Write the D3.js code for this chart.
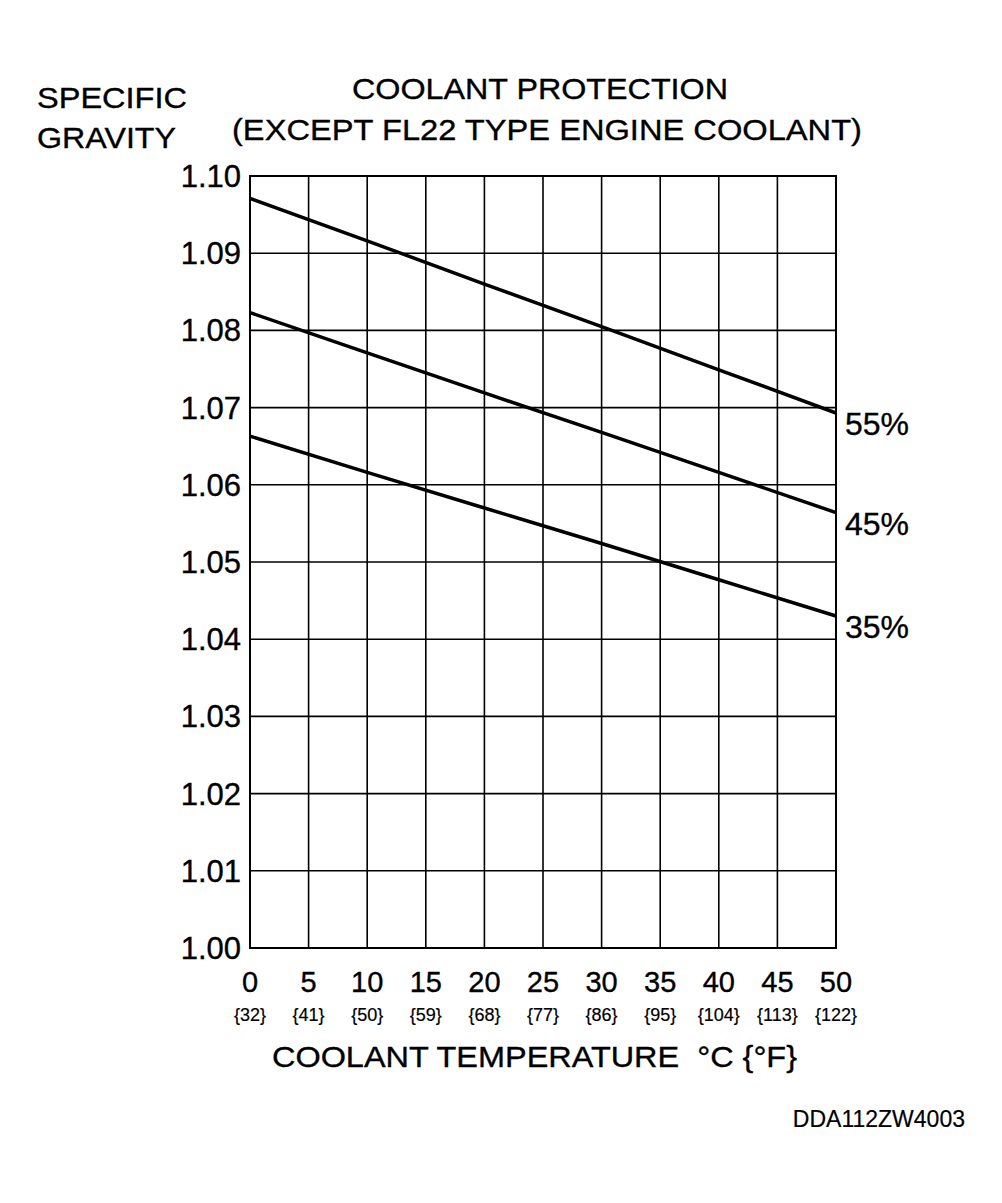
<!DOCTYPE html>
<html>
<head>
<meta charset="utf-8">
<script src="https://cdn.jsdelivr.net/npm/d3@7"></script>
<style>
  body { margin: 0; background: #fff; }
  svg { display: block; font-family: "Liberation Sans", Arial, sans-serif; }
  svg text { stroke: #000; stroke-width: 0.35; }
</style>
</head>
<body>
<script>
// temperatures (deg C) where the curves were read
var temps = [0, 10, 20, 30, 40, 50];
// fahrenheit labels under the celsius ticks
var xTicks = [0, 5, 10, 15, 20, 25, 30, 35, 40, 45, 50];
var fTicks = ["{32}", "{41}", "{50}", "{59}", "{68}", "{77}", "{86}", "{95}", "{104}", "{113}", "{122}"];
var yTicks = [1.00, 1.01, 1.02, 1.03, 1.04, 1.05, 1.06, 1.07, 1.08, 1.09, 1.10];

// specific gravity per concentration
var series = ["55%", "45%", "35%"];
var sg55 = [1.0971, 1.0916, 1.0860, 1.0805, 1.0749, 1.0693];
var sg45 = [1.0823, 1.0771, 1.0719, 1.0668, 1.0616, 1.0564];
var sg35 = [1.0663, 1.0616, 1.0570, 1.0524, 1.0477, 1.0430];
var values = [sg55, sg45, sg35];

var size = { width: 1002, height: 1203 };
var plot = { left: 250, right: 836, top: 176, bottom: 948 };

var svg = d3.select("body").append("svg")
  .attr("width", size.width)
  .attr("height", size.height);

var x = d3.scaleLinear().domain([0, 50]).range([plot.left, plot.right]);
var y = d3.scaleLinear().domain([1.00, 1.10]).range([plot.bottom, plot.top]);

// grid lines
svg.append("g")
  .selectAll("line.v")
  .data(xTicks)
  .join("line")
  .attr("x1", d => x(d)).attr("x2", d => x(d))
  .attr("y1", plot.top).attr("y2", plot.bottom)
  .attr("stroke", "#000")
  .attr("stroke-width", 1.6);

svg.append("g")
  .selectAll("line.h")
  .data(yTicks)
  .join("line")
  .attr("x1", plot.left).attr("x2", plot.right)
  .attr("y1", d => y(d)).attr("y2", d => y(d))
  .attr("stroke", "#000")
  .attr("stroke-width", 1.6);

// outer frame
svg.append("rect")
  .attr("x", plot.left).attr("y", plot.top)
  .attr("width", plot.right - plot.left)
  .attr("height", plot.bottom - plot.top)
  .attr("fill", "none")
  .attr("stroke", "#000")
  .attr("stroke-width", 2);

// y tick labels
svg.append("g")
  .selectAll("text")
  .data(yTicks)
  .join("text")
  .attr("x", 241)
  .attr("y", d => y(d) + 11)
  .attr("text-anchor", "end")
  .attr("font-size", 31)
  .text(d => d3.format(".2f")(d));

// x tick labels
svg.append("g")
  .selectAll("text")
  .data(xTicks)
  .join("text")
  .attr("x", d => x(d))
  .attr("y", 992)
  .attr("text-anchor", "middle")
  .attr("font-size", 29)
  .text(d => d);

svg.append("g")
  .selectAll("text")
  .data(fTicks)
  .join("text")
  .attr("x", (d, i) => x(xTicks[i]))
  .attr("y", 1021)
  .attr("text-anchor", "middle")
  .attr("font-size", 18)
  .style("stroke-width", 0.2)
  .text(d => d);

// curves
var line = d3.line()
  .x((d, i) => x(temps[i]))
  .y(d => y(d));

svg.append("g")
  .selectAll("path")
  .data(values)
  .join("path")
  .attr("d", line)
  .attr("fill", "none")
  .attr("stroke", "#000")
  .attr("stroke-width", 3.5);

// curve labels
svg.append("g")
  .selectAll("text")
  .data(series)
  .join("text")
  .attr("x", plot.right + 9)
  .attr("y", (d, i) => y(values[i][values[i].length - 1]) + 22)
  .attr("font-size", 32)
  .text(d => d);

// titles
svg.append("text")
  .attr("x", 352).attr("y", 99)
  .attr("font-size", 30)
  .attr("textLength", 376)
  .attr("lengthAdjust", "spacingAndGlyphs")
  .text("COOLANT PROTECTION");

svg.append("text")
  .attr("x", 232).attr("y", 140)
  .attr("font-size", 30)
  .attr("textLength", 630)
  .attr("lengthAdjust", "spacingAndGlyphs")
  .text("(EXCEPT FL22 TYPE ENGINE COOLANT)");

svg.append("text")
  .attr("x", 37).attr("y", 108)
  .attr("font-size", 30)
  .attr("textLength", 150)
  .attr("lengthAdjust", "spacingAndGlyphs")
  .text("SPECIFIC");

svg.append("text")
  .attr("x", 37).attr("y", 148)
  .attr("font-size", 30)
  .attr("textLength", 139)
  .attr("lengthAdjust", "spacingAndGlyphs")
  .text("GRAVITY");

svg.append("text")
  .attr("x", 272).attr("y", 1067)
  .attr("font-size", 30)
  .attr("textLength", 525)
  .attr("lengthAdjust", "spacingAndGlyphs")
  .attr("xml:space", "preserve")
  .text("COOLANT TEMPERATURE  \u00B0C {\u00B0F}");

svg.append("text")
  .attr("x", 965).attr("y", 1127)
  .attr("text-anchor", "end")
  .attr("font-size", 23)
  .style("stroke-width", 0.2)
  .text("DDA112ZW4003");
</script>
</body>
</html>
